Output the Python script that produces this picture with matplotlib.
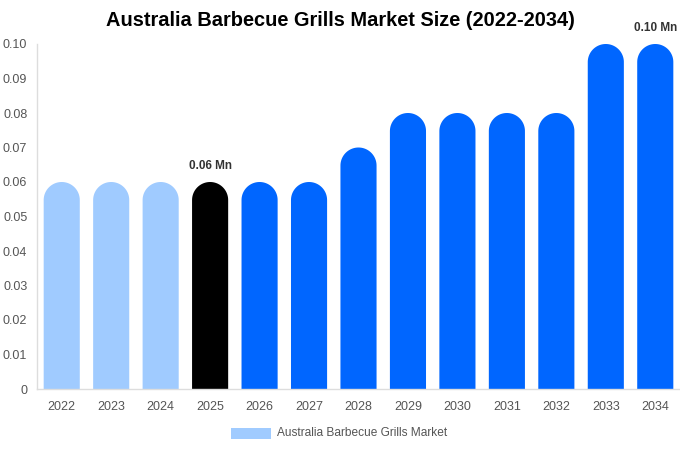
import numpy as np
import matplotlib
matplotlib.use("Agg")
import matplotlib.pyplot as plt
from matplotlib.patches import Polygon, Rectangle

plt.rcParams["font.family"] = ["Liberation Sans", "DejaVu Sans"]

years = ["2022", "2023", "2024", "2025", "2026", "2027", "2028",
         "2029", "2030", "2031", "2032", "2033", "2034"]
values = [0.06, 0.06, 0.06, 0.06, 0.06, 0.06, 0.07,
          0.08, 0.08, 0.08, 0.08, 0.10, 0.10]
bar_colors = ["#a0cbff"] * 3 + ["#000000"] + ["#0066ff"] * 9
labels = {3: "0.06 Mn", 12: "0.10 Mn"}
series_name = "Australia Barbecue Grills Market"

W, H, DPI = 680, 450, 100
fig = plt.figure(figsize=(W / DPI, H / DPI), dpi=DPI)
ax = fig.add_axes([37 / W, 61 / H, 643 / W, 345 / H])

ymax = 0.10
ax.set_xlim(-0.5, len(years) - 0.5)
ax.set_ylim(0, ymax)

bw = 0.73
# radius of the rounded top, converted to y data units
px_per_x = 643 / len(years)
px_per_y = 345 / ymax
ry = (bw / 2) * px_per_x / px_per_y
t = np.linspace(0, np.pi, 60)

for i, (v, c) in enumerate(zip(values, bar_colors)):
    arc_x = i + (bw / 2) * np.cos(t)
    arc_y = (v - ry) + ry * np.sin(t)
    xs = np.concatenate([[i + bw / 2], arc_x, [i - bw / 2]])
    ys = np.concatenate([[0], arc_y, [0]])
    ax.add_patch(Polygon(np.column_stack([xs, ys]), closed=True,
                         facecolor=c, edgecolor="none"))
    if i in labels:
        ax.text(i, v + 0.0028, labels[i], ha="center", va="bottom",
                fontsize=8.5, fontweight="bold", color="#333333")

ax.set_xticks(range(len(years)))
ax.set_xticklabels(years)
ax.set_yticks([i / 100 for i in range(11)])
ax.set_yticklabels(["0"] + [f"{i / 100:.2f}" for i in range(1, 11)])
ax.tick_params(axis="both", length=0, labelsize=9, colors="#555555")
ax.tick_params(axis="x", pad=9)
ax.tick_params(axis="y", pad=7)
for s in ["top", "right"]:
    ax.spines[s].set_visible(False)
for s in ["left", "bottom"]:
    ax.spines[s].set_color("#dddddd")
    ax.spines[s].set_linewidth(1)

fig.text(340 / W, 1 - 21 / H, "Australia Barbecue Grills Market Size (2022-2034)",
         ha="center", va="center", fontsize=14.4, fontweight="bold", color="#000000")

# legend
fig.patches.append(Rectangle((231 / W, 1 - 439 / H), 40 / W, 11 / H,
                             facecolor=bar_colors[0], edgecolor="none",
                             transform=fig.transFigure, figure=fig))
fig.text(277 / W, 1 - 433 / H, series_name, ha="left", va="center",
         fontsize=8.6, color="#555555")

fig.savefig("out.png", dpi=DPI, facecolor="white")
